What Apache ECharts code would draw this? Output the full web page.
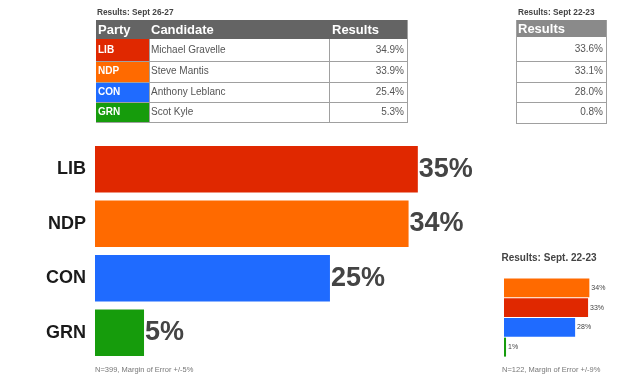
<!DOCTYPE html>
<html><head><meta charset="utf-8">
<script src="https://cdn.jsdelivr.net/npm/echarts@6/dist/echarts.min.js"></script>
<style>html,body{margin:0;padding:0;background:#fff}#c{width:620px;height:376px}</style>
</head><body><div id="c"></div>
<script>
// ---- data ----
var parties = ['LIB', 'NDP', 'CON', 'GRN'];
var candidates = ['Michael Gravelle', 'Steve Mantis', 'Anthony Leblanc', 'Scot Kyle'];
var resultsSept26 = [34.9, 33.9, 25.4, 5.3];
var resultsSept22 = [33.6, 33.1, 28.0, 0.8];
var prevOrder = ['NDP', 'LIB', 'CON', 'GRN'];
var prevValues = [33.6, 33.1, 28.0, 0.8];
var partyColors = {LIB: '#e02800', NDP: '#ff6a00', CON: '#1f6bff', GRN: '#169c0c'};
var tableTitleNew = 'Results: Sept 26-27';
var tableTitleOld = 'Results: Sept 22-23';
var headers = ['Party', 'Candidate', 'Results'];
var smallTitle = 'Results: Sept. 22-23';
var noteMain = 'N=399, Margin of Error +/-5%';
var noteSmall = 'N=122, Margin of Error +/-9%';

var sans = "'Liberation Sans',Arial,sans-serif";

// ---- table layout (layout constants) ----
var colX = [96, 149, 329, 407];
var rowY = [20, 39, 61, 82, 102, 122];
var rColX = [516, 606];
var rRowY = [20, 37, 61, 82, 102, 123];

var g = [];
function txt(x, y, s, o) {
  var st = {text: s, x: x, y: y, fill: o.fill || '#555', font: (o.weight || 'normal') + ' ' + o.size + 'px ' + sans, textAlign: o.align || 'left', textVerticalAlign: 'middle'};
  g.push({type: 'text', style: st, z: 10});
}
function rect(x, y, w, h, fill) {
  g.push({type: 'rect', shape: {x: x, y: y, width: w, height: h}, style: {fill: fill}, z: 5});
}
function line(x1, y1, x2, y2, c) {
  g.push({type: 'line', shape: {x1: x1, y1: y1, x2: x2, y2: y2}, style: {stroke: c, lineWidth: 1}, z: 6});
}
// left table
txt(97, 13, tableTitleNew, {size: 8.3, weight: 'bold', fill: '#444'});
rect(colX[0], rowY[0], colX[3] - colX[0], rowY[1] - rowY[0], '#646464');
var hx = [colX[0] + 2, colX[1] + 2, colX[2] + 3];
headers.forEach(function (h, i) { txt(hx[i], (rowY[0] + rowY[1]) / 2 + 0.5, h, {size: 13, weight: 'bold', fill: '#fff'}); });
parties.forEach(function (p, i) {
  var y0 = rowY[i + 1], y1 = rowY[i + 2], cy = (y0 + y1) / 2;
  rect(colX[0], y0, colX[1] - colX[0], y1 - y0, partyColors[p]);
  txt(colX[0] + 2, cy, p, {size: 10, weight: 'bold', fill: '#fff'});
  txt(colX[1] + 2, cy, candidates[i], {size: 10, fill: '#555'});
  txt(colX[3] - 3, cy, resultsSept26[i].toFixed(1) + '%', {size: 10, fill: '#555', align: 'right'});
  line(colX[0], y1 + 0.5, colX[3], y1 + 0.5, '#a0a0a0');
});
line(colX[1] + 0.5, rowY[1], colX[1] + 0.5, rowY[5], '#a0a0a0');
line(colX[2] + 0.5, rowY[1], colX[2] + 0.5, rowY[5], '#a0a0a0');
line(colX[3] + 0.5, rowY[0], colX[3] + 0.5, rowY[5] + 1, '#a0a0a0');
// right table
txt(518, 13, tableTitleOld, {size: 8.3, weight: 'bold', fill: '#444'});
rect(rColX[0], rRowY[0], rColX[1] - rColX[0], rRowY[1] - rRowY[0], '#8a8a8a');
txt(rColX[0] + 2, (rRowY[0] + rRowY[1]) / 2 + 0.5, headers[2], {size: 13, weight: 'bold', fill: '#fff'});
resultsSept22.forEach(function (v, i) {
  var y0 = rRowY[i + 1], y1 = rRowY[i + 2];
  txt(rColX[1] - 3, (y0 + y1) / 2, v.toFixed(1) + '%', {size: 10, fill: '#555', align: 'right'});
  line(rColX[0], y1 + 0.5, rColX[1], y1 + 0.5, '#a0a0a0');
});
line(rColX[0] + 0.5, rRowY[0], rColX[0] + 0.5, rRowY[5] + 1, '#a0a0a0');
line(rColX[1] + 0.5, rRowY[0], rColX[1] + 0.5, rRowY[5] + 1, '#a0a0a0');
// notes and small title
txt(549, 258, smallTitle, {size: 10, weight: 'bold', fill: '#444', align: 'center'});
txt(95, 370, noteMain, {size: 7.5, fill: '#777'});
txt(502, 370, noteSmall, {size: 7.5, fill: '#777'});

var chart = echarts.init(document.getElementById('c'), null, {renderer: 'canvas'});
chart.setOption({
  animation: false,
  grid: [
    {left: 95, top: 142, width: 370, height: 218},
    {left: 504, top: 278, width: 101.6, height: 79}
  ],
  xAxis: [
    {gridIndex: 0, type: 'value', min: 0, max: 40, show: false},
    {gridIndex: 1, type: 'value', min: 0, max: 40, show: false}
  ],
  yAxis: [
    {gridIndex: 0, type: 'category', data: parties, inverse: true,
      axisLine: {show: false}, axisTick: {show: false},
      axisLabel: {margin: 9, fontSize: 18, fontWeight: 'bold', color: '#1a1a1a', fontFamily: sans}},
    {gridIndex: 1, type: 'category', data: prevOrder, inverse: true, show: false}
  ],
  series: [
    {type: 'bar', xAxisIndex: 0, yAxisIndex: 0, barCategoryGap: '15%',
      data: parties.map(function (p, i) { return {value: resultsSept26[i], itemStyle: {color: partyColors[p]}}; }),
      label: {show: true, position: 'right', distance: 1, fontSize: 27, fontWeight: 'bold', color: '#444', fontFamily: sans,
        formatter: function (p) { return Math.round(p.value) + '%'; }}},
    {type: 'bar', xAxisIndex: 1, yAxisIndex: 1, barCategoryGap: '4%',
      data: prevOrder.map(function (p, i) { return {value: prevValues[i], itemStyle: {color: partyColors[p]}}; }),
      label: {show: true, position: 'right', distance: 2, fontSize: 7, color: '#444', fontFamily: sans,
        formatter: function (p) { return Math.round(p.value) + '%'; }}}
  ],
  graphic: g
});
</script></body></html>
